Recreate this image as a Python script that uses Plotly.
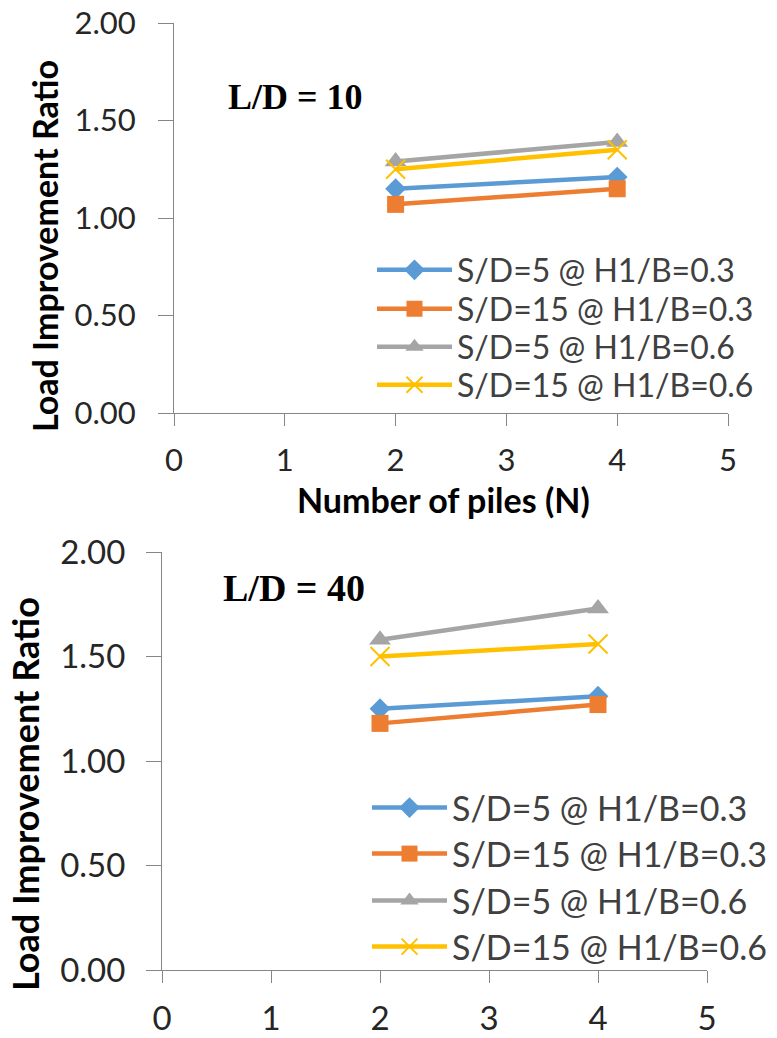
import plotly.graph_objects as go

n_piles = [2, 4]
series_names = ["S/D=5 @ H1/B=0.3", "S/D=15 @ H1/B=0.3", "S/D=5 @ H1/B=0.6", "S/D=15 @ H1/B=0.6"]
ld10_sd5_h03 = [1.15, 1.21]
ld10_sd15_h03 = [1.07, 1.15]
ld10_sd5_h06 = [1.29, 1.39]
ld10_sd15_h06 = [1.25, 1.35]
ld40_sd5_h03 = [1.25, 1.31]
ld40_sd15_h03 = [1.18, 1.27]
ld40_sd5_h06 = [1.58, 1.73]
ld40_sd15_h06 = [1.50, 1.56]
x_ticks = [0, 1, 2, 3, 4, 5]
y_ticks = [0, 0.5, 1.0, 1.5, 2.0]
y_tick_text = ["0.00", "0.50", "1.00", "1.50", "2.00"]

colors = ["#5B9BD5", "#ED7D31", "#A5A5A5", "#FFC000"]
symbols = ["diamond", "square", "triangle-up", "x-thin"]
sizes = [16, 17, 19, 19]
FONT = "Lato"

fig = go.Figure()
top = [ld10_sd5_h03, ld10_sd15_h03, ld10_sd5_h06, ld10_sd15_h06]
bot = [ld40_sd5_h03, ld40_sd15_h03, ld40_sd5_h06, ld40_sd15_h06]

top_rows = [270, 309, 347, 385]
bot_rows = [808, 854, 901, 947]

legend_defs = {}

def add(series, xa, ya, start, rows, lx, fsize):
    for i, ys in enumerate(series):
        mk = dict(symbol=symbols[i], size=sizes[i], color=colors[i])
        if symbols[i] == "x-thin":
            mk["line"] = dict(color=colors[i], width=2)
        lid = "legend" if start + i == 1 else "legend%d" % (start + i)
        fig.add_trace(go.Scatter(
            x=n_piles, y=ys, name=series_names[i], mode="lines+markers",
            line=dict(color=colors[i], width=4.5), marker=mk,
            xaxis=xa, yaxis=ya, legend=lid))
        legend_defs[lid] = dict(x=lx/777, y=1-rows[i]/1038, xanchor="left", yanchor="middle",
                                font=dict(family=FONT, size=fsize, color="#404040"),
                                bgcolor="rgba(0,0,0,0)", itemwidth=75)

add(top, "x", "y", 1, top_rows, 372, 32)
add(bot, "x2", "y2", 5, bot_rows, 367, 34)

def axis(**kw):
    d = dict(showgrid=False, zeroline=False, showline=True, linecolor="#868686",
             linewidth=1, ticks="outside", tickcolor="#868686")
    d.update(kw)
    return d

fig.update_layout(
    width=777, height=1038, margin=dict(l=0, r=0, t=0, b=0, autoexpand=False),
    paper_bgcolor="white", plot_bgcolor="white", showlegend=True,
    xaxis=axis(domain=[174/777, 728/777], range=[0, 5], tickvals=x_ticks, anchor="y",
               ticklen=12, ticklabelstandoff=8,
               tickfont=dict(family=FONT, size=31, color="#262626")),
    yaxis=axis(domain=[(1038-413)/1038, (1038-23)/1038], range=[0, 2], tickvals=y_ticks,
               ticktext=y_tick_text, anchor="x", ticklen=15, ticklabelstandoff=16,
               tickfont=dict(family=FONT, size=31, color="#262626")),
    xaxis2=axis(domain=[162/777, 707/777], range=[0, 5], tickvals=x_ticks, anchor="y2",
                ticklen=12, ticklabelstandoff=7,
                tickfont=dict(family=FONT, size=33, color="#262626")),
    yaxis2=axis(domain=[(1038-970)/1038, (1038-552)/1038], range=[0, 2], tickvals=y_ticks,
                ticktext=y_tick_text, anchor="x2", ticklen=15, ticklabelstandoff=14,
                tickfont=dict(family=FONT, size=33, color="#262626")),
    **legend_defs,
)

ann = [
    dict(text="<b>L/D = 10</b>", x=226/777, y=1-97/1038, xanchor="left", yanchor="middle",
         font=dict(family="Liberation Serif", size=36, color="black")),
    dict(text="<b>L/D = 40</b>", x=221/777, y=1-588/1038, xanchor="left", yanchor="middle",
         font=dict(family="Liberation Serif", size=38, color="black")),
    dict(text="<b>Number of piles (N)</b>", x=443/777, y=1-499/1038, xanchor="center", yanchor="middle",
         font=dict(family=FONT, size=34, color="black")),
    dict(text="<b>Load Improvement Ratio</b>", x=45/777, y=1-246/1038, xanchor="center", yanchor="middle",
         textangle=-90, font=dict(family=FONT, size=34, color="black")),
    dict(text="<b>Load Improvement Ratio</b>", x=25/777, y=1-794/1038, xanchor="center", yanchor="middle",
         textangle=-90, font=dict(family=FONT, size=36, color="black")),
]
for a in ann:
    a.update(xref="paper", yref="paper", showarrow=False)
fig.update_layout(annotations=ann)

fig.write_html("out.html")
